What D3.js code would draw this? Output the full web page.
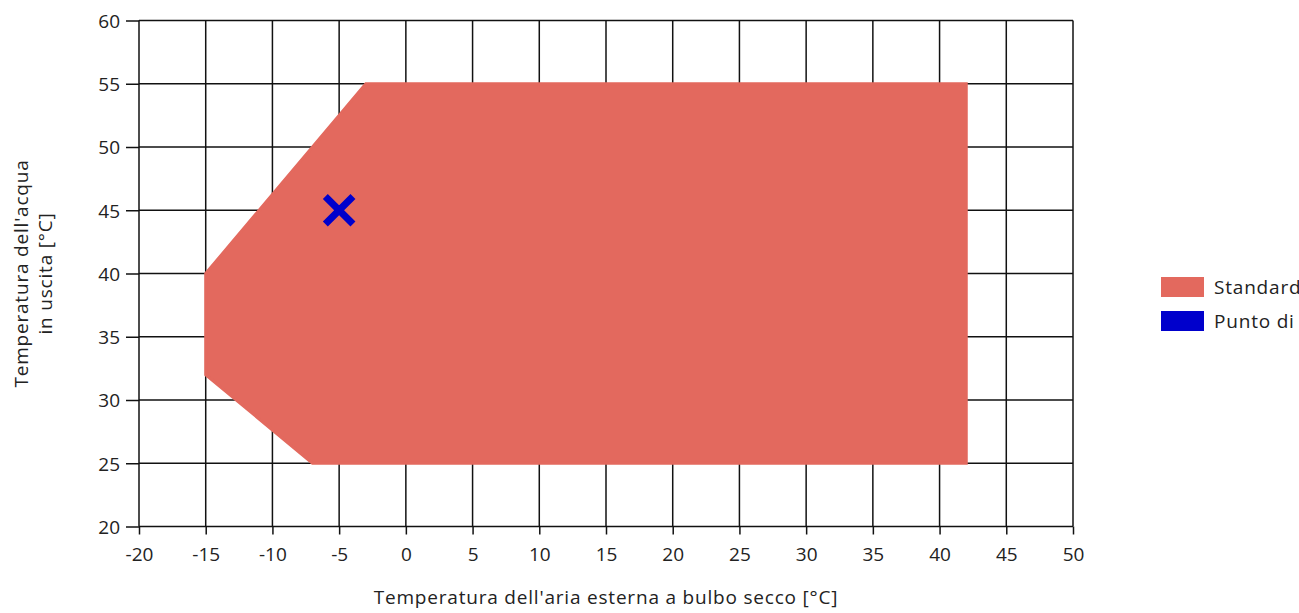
<!DOCTYPE html>
<html>
<head>
<meta charset="utf-8">
<script src="https://cdn.jsdelivr.net/npm/d3@7"></script>
<style>
  body { margin: 0; background: #fff; overflow: hidden; }
  svg { font-family: "Open Sans", "Noto Sans", sans-serif; }
</style>
</head>
<body>
<div id="chart"></div>
<script>
// Operating envelope (outline of the "Standard" area)
const envelopeX = [-15, -3, 42, 42, -7, -15];
const envelopeY = [40, 55, 55, 25, 25, 32];
// Working point
const pointX = [-5];
const pointY = [45];
const xTicks = [-20, -15, -10, -5, 0, 5, 10, 15, 20, 25, 30, 35, 40, 45, 50];
const yTicks = [20, 25, 30, 35, 40, 45, 50, 55, 60];
const legendLabels = ['Standard', 'Punto di lavoro'];
const legendColors = ['#e3695e', '#0000cc'];

const width = 1299, height = 613;
const margin = { top: 20.5, right: 226, bottom: 86.5, left: 139 };
const fontSize = 19;

const svg = d3.select('#chart').append('svg')
    .attr('width', width)
    .attr('height', height);

const x = d3.scaleLinear().domain([-20, 50]).range([margin.left, width - margin.right]);
const y = d3.scaleLinear().domain([20, 60]).range([height - margin.bottom, margin.top]);

// Grid
const grid = svg.append('g').attr('stroke', '#111').attr('stroke-width', 1.5);
grid.selectAll('.vx').data(xTicks).enter().append('line')
    .attr('x1', d => x(d)).attr('x2', d => x(d))
    .attr('y1', y(60)).attr('y2', y(20));
grid.selectAll('.hy').data(yTicks).enter().append('line')
    .attr('x1', x(-20)).attr('x2', x(50))
    .attr('y1', d => y(d)).attr('y2', d => y(d));

// Envelope polygon
const pts = envelopeX.map((v, i) => [x(v), y(envelopeY[i])]);
svg.append('polygon')
    .attr('points', pts.map(p => p.join(',')).join(' '))
    .attr('fill', legendColors[0])
    .attr('stroke', legendColors[0])
    .attr('stroke-width', 3);

// Working point marker (cross)
const cross = d3.symbol().type(d3.symbolX).size(500);
svg.selectAll('.pt').data(pointX).enter().append('path')
    .attr('d', cross)
    .attr('transform', (d, i) => `translate(${x(d)},${y(pointY[i])})`)
    .attr('fill', 'none')
    .attr('stroke', legendColors[1])
    .attr('stroke-width', 7);

// Axes
const fmt = d => String(d);
const xAxis = svg.append('g')
    .attr('transform', `translate(0,${y(20)})`)
    .call(d3.axisBottom(x).tickValues(xTicks).tickFormat(fmt).tickSize(8).tickSizeOuter(0));
const yAxis = svg.append('g')
    .attr('transform', `translate(${x(-20)},0)`)
    .call(d3.axisLeft(y).tickValues(yTicks).tickFormat(fmt).tickSize(13).tickSizeOuter(0));
[xAxis, yAxis].forEach(a => {
    a.select('.domain').remove();
    a.selectAll('line').attr('stroke', '#111').attr('stroke-width', 1.5);
    a.selectAll('text').attr('fill', '#222').attr('font-size', fontSize)
        .attr('font-family', '"Open Sans", sans-serif');
});
xAxis.selectAll('text').attr('y', 34).attr('dy', 0);
yAxis.selectAll('text').attr('x', -19).attr('dy', '0.36em');

// Axis titles
svg.append('text')
    .attr('x', (x(-20) + x(50)) / 2)
    .attr('y', 604)
    .attr('text-anchor', 'middle')
    .attr('font-size', fontSize)
    .attr('letter-spacing', 0.8)
    .attr('fill', '#222')
    .text("Temperatura dell'aria esterna a bulbo secco [°C]");

const yTitle = svg.append('text')
    .attr('transform', `translate(28,${(y(20) + y(60)) / 2}) rotate(-90)`)
    .attr('text-anchor', 'middle')
    .attr('font-size', fontSize)
    .attr('letter-spacing', 0.8)
    .attr('fill', '#222');
yTitle.append('tspan').attr('x', 0).attr('dy', 0).text("Temperatura dell'acqua");
yTitle.append('tspan').attr('x', 0).attr('dy', 24).text('in uscita [°C]');

// Legend
const legend = svg.append('g').attr('transform', 'translate(1161,277)');
const item = legend.selectAll('g').data(legendLabels).enter().append('g')
    .attr('transform', (d, i) => `translate(0,${i * 34})`);
item.append('rect')
    .attr('width', 43).attr('height', 20)
    .attr('fill', (d, i) => legendColors[i]);
item.append('text')
    .attr('x', 53).attr('y', 10).attr('dy', '0.36em')
    .attr('font-size', fontSize).attr('letter-spacing', 0.8).attr('fill', '#222')
    .text(d => d);
</script>
</body>
</html>
